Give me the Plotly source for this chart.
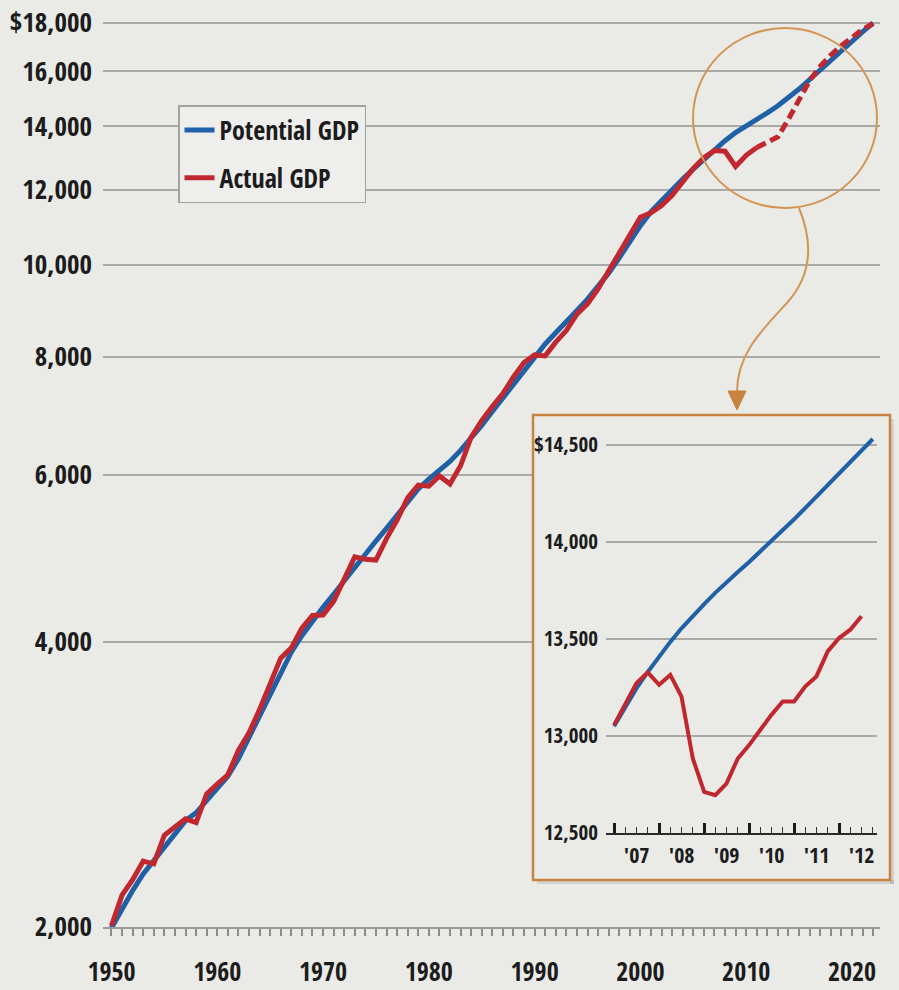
import math
import plotly.graph_objects as go

# ---------------------------------------------------------------- data
years = list(range(1950, 2023))

potential_gdp = [
    1995, 2090, 2185, 2275, 2350, 2430, 2510, 2590, 2640, 2720,   # 1950s
    2800, 2885, 3010, 3170, 3340, 3530, 3720, 3900, 4060, 4210,   # 1960s
    4350, 4490, 4640, 4800, 4960, 5110, 5270, 5440, 5620, 5800,   # 1970s
    5940, 6060, 6200, 6370, 6560, 6770, 7000, 7240, 7490, 7750,   # 1980s
    8010, 8250, 8480, 8700, 8950, 9200, 9480, 9800, 10170, 10580,  # 1990s
    11000, 11380, 11700, 12010, 12320, 12620, 12920, 13220, 13520, 13790,  # 2000s
    14000, 14230, 14470, 14720, 15010, 15330, 15690, 16070, 16450, 16840,  # 2010s
    17230, 17620, 18000,                                           # 2020-22
]

actual_years = list(range(1950, 2012))
actual_gdp = [
    2006, 2161, 2244, 2347, 2332, 2500, 2550, 2601, 2578, 2763,
    2831, 2895, 3072, 3206, 3392, 3610, 3845, 3942, 4134, 4264,
    4270, 4413, 4648, 4918, 4890, 4880, 5141, 5377, 5677, 5855,
    5839, 5987, 5871, 6136, 6577, 6849, 7087, 7313, 7614, 7886,
    8034, 8015, 8287, 8523, 8871, 9094, 9434, 9854, 10284, 10780,
    11226, 11347, 11553, 11841, 12264, 12638, 12976, 13200, 13180, 12700,
    13050, 13300,
]

projection_years = list(range(2011, 2023))
projected_gdp = [13300, 13480, 13650, 14250, 14950, 15650, 16200, 16650,
                 17030, 17400, 17720, 17980]

# quarterly detail, 2007-2012
quarters = [f"{y}-{m:02d}-01" for y in range(2007, 2013) for m in (1, 4, 7, 10)]
potential_q = [13050, 13150, 13245, 13330, 13410, 13485, 13555, 13620,
               13680, 13738, 13793, 13845, 13897, 13950, 14005, 14060,
               14117, 14175, 14235, 14295, 14355, 14415, 14473, 14531]
actual_q = [13057, 13169, 13272, 13328, 13264, 13315, 13203, 12884,
            12712, 12695, 12755, 12884, 12953, 13031, 13109, 13178,
            13178, 13255, 13307, 13436, 13505, 13548, 13617]

main_ticks = [2000, 4000, 6000, 8000, 10000, 12000, 14000, 16000, 18000]
main_ticktext = ["2,000", "4,000", "6,000", "8,000", "10,000", "12,000",
                 "14,000", "16,000", "$18,000"]
decades = list(range(1950, 2030, 10))
inset_ticks = [12500, 13000, 13500, 14000, 14500]
inset_ticktext = ["12,500", "13,000", "13,500", "14,000", "$14,500"]

# ---------------------------------------------------------------- style
W, H = 899, 990
ML, MR, MT, MB = 103, 19, 13, 63
PW, PH = W - ML - MR, H - MT - MB

BG = "#eaeae7"
BLUE = "#1f60a6"
RED = "#c0272e"
ORANGE = "#d39551"
BOX_EDGE = "#c8833f"
GRID = "#a9a9a7"
INK = "#1c1c1c"
FONT = "Open Sans Condensed, Roboto Condensed, DejaVu Sans Condensed, sans-serif"


def fx(x):
    """pixel column -> paper x"""
    return (x - ML) / PW


def fy(y):
    """pixel row -> paper y"""
    return (H - MB - y) / PH


fig = go.Figure()

# main chart
fig.add_trace(go.Scatter(x=years, y=potential_gdp, mode="lines",
                         name="Potential GDP", legendgroup="p",
                         line=dict(color=BLUE, width=5)))
fig.add_trace(go.Scatter(x=actual_years, y=actual_gdp, mode="lines",
                         name="Actual GDP", legendgroup="a",
                         line=dict(color=RED, width=5)))
fig.add_trace(go.Scatter(x=projection_years, y=projected_gdp, mode="lines",
                         showlegend=False,
                         line=dict(color=RED, width=5, dash="10px,5px")))

# panel that holds the detail chart
fig.add_trace(go.Scatter(x=[], y=[], xaxis="x2", yaxis="y2",
                         showlegend=False, hoverinfo="skip"))

# detail chart
fig.add_trace(go.Scatter(x=quarters, y=potential_q, mode="lines",
                         xaxis="x3", yaxis="y3", showlegend=False,
                         line=dict(color=BLUE, width=4)))
fig.add_trace(go.Scatter(x=quarters[:len(actual_q)], y=actual_q, mode="lines",
                         xaxis="x3", yaxis="y3", showlegend=False,
                         line=dict(color=RED, width=4)))

y_lo = math.log10(2000)
y_hi = math.log10(18000) + 10 / (904 / math.log10(9))

fig.update_layout(
    width=W, height=H,
    margin=dict(l=ML, r=MR, t=MT, b=MB, pad=0),
    paper_bgcolor=BG, plot_bgcolor=BG,
    font=dict(family=FONT, color=INK, size=24),
    xaxis=dict(
        range=[1949.2, 2022.65], tickvals=decades, automargin=False,
        showgrid=False, zeroline=False,
        showline=True, linecolor="#9b9b99", linewidth=2,
        ticks="outside", ticklen=7, tickwidth=1.5, tickcolor="#8d8d8b",
        minor=dict(dtick=1, tick0=1950, ticks="outside", ticklen=7,
                   tickwidth=1.5, tickcolor="#8d8d8b", showgrid=False),
        tickfont=dict(size=26), ticklabelstandoff=14,
    ),
    yaxis=dict(
        type="log", range=[y_lo, y_hi], automargin=False,
        tickvals=main_ticks, ticktext=main_ticktext,
        showgrid=True, gridcolor=GRID, gridwidth=2,
        zeroline=False, showline=False, ticks="",
        tickfont=dict(size=27), ticklabelstandoff=10,
    ),
    xaxis2=dict(domain=[fx(533), 1.0], range=[0, 1], visible=False,
                anchor="y2", automargin=False),
    yaxis2=dict(domain=[fy(880), fy(415)], range=[0, 1], visible=False,
                anchor="x2", automargin=False),
    xaxis3=dict(
        domain=[fx(606), fx(877)], anchor="y3", type="date", automargin=False,
        range=["2006-10-27", "2012-11-04"],
        dtick="M12", tick0="2007-01-01", tickformat="'%y",
        ticklabelmode="period",
        showgrid=False, zeroline=False,
        showline=True, linecolor="#2a2a2a", linewidth=2,
        ticks="inside", ticklen=10, tickwidth=2.5, tickcolor="#1a1a1a",
        minor=dict(dtick="M3", tick0="2007-01-01", ticks="inside",
                   ticklen=6, tickwidth=1.2, tickcolor="#333333",
                   showgrid=False),
        tickfont=dict(size=22), ticklabelstandoff=2,
    ),
    yaxis3=dict(
        domain=[fy(833), fy(435)], anchor="x3", automargin=False,
        range=[12500, 14500 + 10 * 2000 / 388],
        tickvals=inset_ticks, ticktext=inset_ticktext,
        showgrid=True, gridcolor=GRID, gridwidth=1.5,
        zeroline=False, showline=False, ticks="",
        tickfont=dict(size=21), ticklabelstandoff=7,
    ),
    legend=dict(
        x=fx(178), y=fy(105), xanchor="left", yanchor="top",
        bgcolor="#eeeeec", bordercolor="#a2a2a0", borderwidth=1.5,
        font=dict(size=26), tracegroupgap=11, itemwidth=30,
    ),
    showlegend=True,
)

# callout circle, connector arrow and panel frame
arrow_pts = [(799, 208), (813, 242), (812, 276), (786, 304),
             (760, 332), (737, 355), (737, 392)]
(p0, c1, c2, p1, c3, c4, p2) = [(fx(a), fy(b)) for a, b in arrow_pts]
arrow_path = (f"M {p0[0]},{p0[1]} C {c1[0]},{c1[1]} {c2[0]},{c2[1]} {p1[0]},{p1[1]} "
              f"C {c3[0]},{c3[1]} {c4[0]},{c4[1]} {p2[0]},{p2[1]}")
head = [(fx(728), fy(391)), (fx(746), fy(391)), (fx(737), fy(410))]
head_path = "M {},{} L {},{} L {},{} Z".format(*[v for p in head for v in p])

fig.update_layout(shapes=[
    # panel shadow
    dict(type="rect", xref="paper", yref="paper", layer="below",
         x0=fx(890), x1=fx(894), y0=fy(884), y1=fy(419),
         fillcolor="rgba(0,0,0,0.10)", line=dict(width=0)),
    dict(type="rect", xref="paper", yref="paper", layer="below",
         x0=fx(537), x1=fx(894), y0=fy(884), y1=fy(880),
         fillcolor="rgba(0,0,0,0.10)", line=dict(width=0)),
    # panel frame
    dict(type="rect", xref="paper", yref="paper", layer="above",
         x0=fx(533), x1=fx(890), y0=fy(880), y1=fy(415),
         line=dict(color=BOX_EDGE, width=2.5)),
    # callout circle
    dict(type="circle", xref="paper", yref="paper", layer="above",
         x0=fx(693), x1=fx(877), y0=fy(208), y1=fy(28),
         line=dict(color=ORANGE, width=2)),
    dict(type="path", xref="paper", yref="paper", layer="above",
         path=arrow_path, line=dict(color=ORANGE, width=2)),
    dict(type="path", xref="paper", yref="paper", layer="above",
         path=head_path, fillcolor=BOX_EDGE, line=dict(color=BOX_EDGE, width=1)),
])

fig.write_html("out.html")
